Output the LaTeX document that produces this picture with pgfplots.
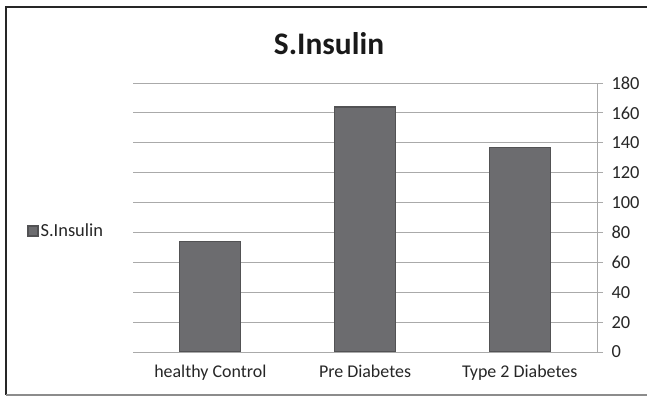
\documentclass[border=0pt]{standalone}
\usepackage{pgfplots}
\pgfplotsset{compat=1.18}
\usepackage{fontspec}
\setmainfont{Carlito}
\definecolor{barfill}{RGB}{108,108,111}
\definecolor{baredge}{RGB}{82,82,84}
\definecolor{gridc}{RGB}{170,170,170}
\begin{document}
\begin{tikzpicture}
\path[use as bounding box] (0,0) rectangle (647bp,397bp);
% outer chart frame
\draw[line width=1.6bp, black!85] (647bp,390bp) -- (6bp,390bp) -- (6bp,2bp);
\draw[line width=1.4bp, black!45] (6bp,2bp) -- (647bp,2bp);
\node[font=\bfseries\fontsize{31.5}{37}\selectfont, text=black!90] at (329bp,353bp) {S.Insulin};
\begin{axis}[
  at={(133bp,45bp)}, anchor=south west,
  scale only axis, width=464bp, height=269bp,
  xmin=-0.5, xmax=2.5, ymin=0, ymax=180,
  axis x line*=bottom, axis y line*=right,
  axis line style={gridc, line width=0.8bp},
  xtick={0,1,2},
  xticklabels={healthy Control, Pre Diabetes, Type 2 Diabetes},
  x tick style={draw=none},
  extra x ticks={-0.5,0.5,1.5,2.5},
  extra x tick labels={},
  extra x tick style={major tick length=6bp, tick style={draw=gridc, line width=0.8bp}, tick align=outside},
  ytick={0,20,...,180},
  ymajorgrids, grid style={gridc, line width=0.8bp},
  y tick style={gridc, line width=0.8bp},
  tick align=outside, major tick length=6bp,
  yticklabel pos=right,
  yticklabel style={anchor=west, xshift=5bp, font=\fontsize{18.5}{22}\selectfont, text=black!85},
  xticklabel style={yshift=-4bp, font=\fontsize{18}{22}\selectfont, text=black!85},
  /pgf/number format/assume math mode=true,
  ybar, bar width=61bp,
  legend style={at={(-0.228,0.45)}, anchor=west, draw=none, fill=none,
    font=\fontsize{18.5}{22}\selectfont, text=black!85, inner sep=0pt},
  legend image code/.code={\draw[fill=barfill, draw=baredge] (0bp,-5bp) rectangle (10bp,5bp);},
]
\addplot[fill=barfill, draw=baredge, line width=1.2bp] coordinates {(0,74) (1,164) (2,137)};
\addlegendentry{S.Insulin}
\end{axis}
\end{tikzpicture}
\end{document}
